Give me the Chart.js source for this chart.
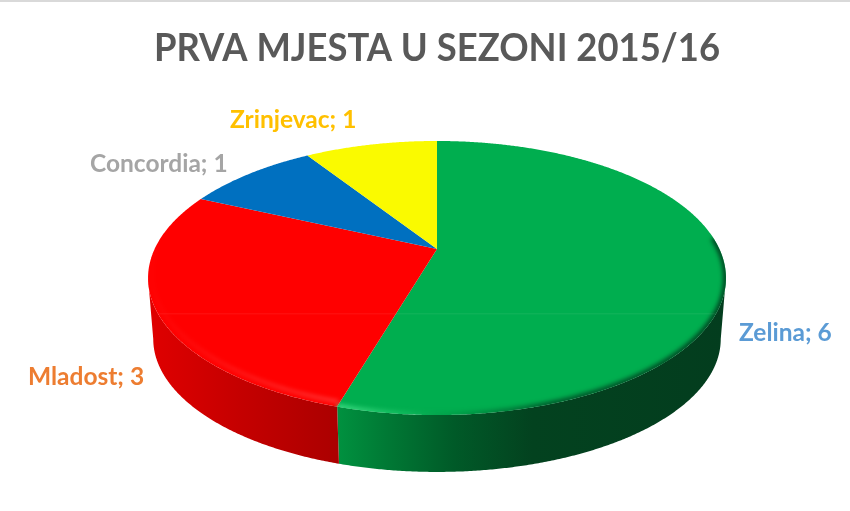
<!DOCTYPE html>
<html><head><meta charset="utf-8">
<style>html,body{margin:0;padding:0;background:#fff}canvas{display:block}</style>
<script src="https://cdn.jsdelivr.net/npm/chart.js@4/dist/chart.umd.min.js"></script>
</head><body>
<canvas id="c" width="850" height="511"></canvas>
<script>
const categories = ['Zelina','Mladost','Concordia','Zrinjevac'];
const wins = [6,3,1,1];
const sliceColors = ['#00ae4f','#ff0000','#0070c0','#fafa00'];
const labelColors = ['#5b9bd5','#ed7d31','#a5a5a5','#ffc000'];
const chartTitle = 'PRVA MJESTA U SEZONI 2015/16';

const view = {x0:437,y0:249,A:282.4,B:130.9,k:0.2117,ecy:278,wallDy:61,sx:0.982,sy:0.97};
const labelSpots = [[739,341],[28,385],[90,172],[230,128]];

function top3d(a){const u=Math.cos(a),v=Math.sin(a),w=1-view.k*v;
  return [view.x0+view.A*u/w, view.y0+view.B*v/w];}
function bot3d(a){const p=top3d(a);
  return [view.x0+(p[0]-view.x0)*view.sx, view.ecy+(p[1]-view.ecy)*view.sy+view.wallDy];}
function arcPts(fn,a,b){const n=Math.max(2,Math.ceil(Math.abs(b-a)/0.006)),r=[];
  for(let i=0;i<=n;i++)r.push(fn(a+(b-a)*i/n));return r;}
function trace(ctx,pts,move){pts.forEach((p,i)=>{(i===0&&move)?ctx.moveTo(p[0],p[1]):ctx.lineTo(p[0],p[1]);});}
function hGrad(ctx,x1,x2,stops){const g=ctx.createLinearGradient(x1,0,x2,0);
  stops.forEach(s=>g.addColorStop(s[0],s[1]));return g;}

const pie3d = {
  id:'pie3d',
  beforeDatasetDraw(chart){
    const ctx=chart.ctx, arcs=chart.getDatasetMeta(0).data;
    ctx.save();
    ctx.fillStyle='#d9d9d9';ctx.fillRect(0,0,850,2);
    const rightA=Math.asin(view.k), leftA=Math.PI-rightA;
    const wallStops=[
      [[0,'#00913f'],[0.12,'#007a35'],[0.3,'#005a28'],[0.5,'#03421f'],[1,'#033d1e']],
      [[0,'#ab0000'],[0.5,'#c40000'],[1,'#e00000']]
    ];
    arcs.forEach((el,i)=>{
      const s=Math.max(el.startAngle,rightA), e=Math.min(el.endAngle,leftA);
      if(e<=s||!wallStops[i])return;
      ctx.beginPath();
      trace(ctx,arcPts(top3d,s,e),true);
      trace(ctx,arcPts(bot3d,e,s),false);
      ctx.closePath();
      ctx.fillStyle= i===0 ? hGrad(ctx,338,726,wallStops[0]) : hGrad(ctx,338,148,wallStops[1]);
      ctx.fill();
    });
    arcs.forEach((el,i)=>{
      ctx.beginPath();
      ctx.moveTo(view.x0,view.y0);
      trace(ctx,arcPts(top3d,el.startAngle,el.endAngle),false);
      ctx.closePath();
      ctx.fillStyle=sliceColors[i];
      ctx.fill();
    });
    const boundary=arcs[0].endAngle;
    ctx.save();
    ctx.beginPath();
    trace(ctx,arcPts(top3d,0,Math.PI*2),true);ctx.closePath();ctx.clip();
    ctx.filter='blur(2px)';
    ctx.lineCap='butt';
    ctx.beginPath();trace(ctx,arcPts(top3d,rightA-0.3,boundary),true);
    ctx.strokeStyle=hGrad(ctx,338,726,[[0,'rgba(60,220,130,.9)'],[0.18,'rgba(60,220,130,.25)'],[0.3,'rgba(0,80,40,.15)'],[0.55,'rgba(0,70,35,.8)'],[1,'rgba(0,60,30,.9)']]);
    ctx.lineWidth=6;ctx.stroke();
    ctx.beginPath();trace(ctx,arcPts(p=>{const q=top3d(p);return [q[0]+(view.x0-q[0])*0.012,q[1]-5];},boundary,leftA+0.2),true);
    ctx.strokeStyle=hGrad(ctx,338,148,[[0,'rgba(255,110,110,.6)'],[0.5,'rgba(255,70,70,.45)'],[1,'rgba(255,40,40,.1)']]);
    ctx.lineWidth=3;ctx.stroke();
    ctx.filter='none';
    ctx.fillStyle='rgba(255,255,255,.05)';ctx.fillRect(140,313,590,1.5);
    ctx.restore();
    ctx.restore();
    return false;
  },
  afterDatasetsDraw(chart){
    const ctx=chart.ctx;
    ctx.save();
    ctx.font='bold 24.5px Lato';
    ctx.textBaseline='alphabetic';ctx.textAlign='left';
    categories.forEach((c,i)=>{
      ctx.fillStyle=labelColors[i];
      ctx.fillText(c+'; '+wins[i],labelSpots[i][0],labelSpots[i][1]);
    });
    ctx.font='bold 39px Lato';ctx.textAlign='center';ctx.fillStyle='#595959';
    ctx.translate(437,61);ctx.scale(0.934,1);
    ctx.fillText(chartTitle,0,0);
    ctx.restore();
  }
};

new Chart(document.getElementById('c'),{
  type:'pie',
  data:{labels:categories,datasets:[{data:wins,backgroundColor:sliceColors,borderWidth:0}]},
  options:{
    responsive:false,animation:false,
    plugins:{legend:{display:false},tooltip:{enabled:false},title:{display:false}}
  },
  plugins:[pie3d]
});
</script>
</body></html>
